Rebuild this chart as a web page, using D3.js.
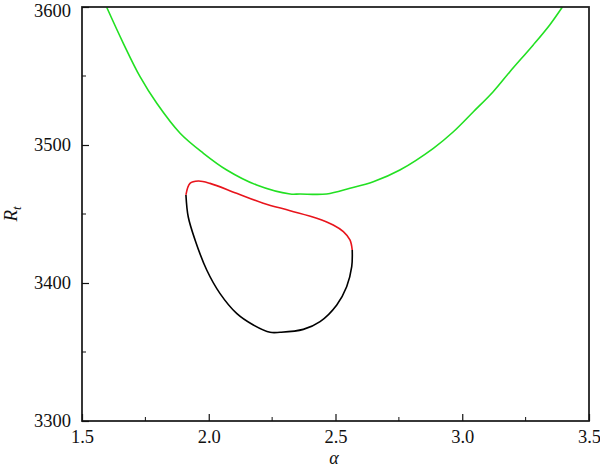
<!DOCTYPE html>
<html lang="en">
<head>
    <meta charset="UTF-8">
    <title>R_t vs alpha</title>
    <script src="https://cdnjs.cloudflare.com/ajax/libs/d3/7.8.5/d3.min.js"></script>
    <style>
        * { margin: 0; padding: 0; box-sizing: border-box; }
        body { background: #fff; width: 600px; height: 468px; overflow: hidden; }
    </style>
</head>
<body>
    <div id="chart"></div>

    <script>
        // upper curve (green)
        const greenAlpha = [1.597, 1.663, 1.729, 1.795, 1.887, 1.979, 2.071, 2.189, 2.321, 2.36, 2.465,
                            2.557, 2.649, 2.754, 2.886, 2.965, 3.044, 3.122, 3.188, 3.28, 3.345, 3.395];
        const greenRt = [3600, 3573.7, 3549.5, 3530.2, 3508.5, 3494.0, 3481.9, 3471.0, 3464.5, 3464.5, 3464.5,
                         3468.6, 3473.4, 3481.9, 3497.6, 3509.6, 3524.1, 3538.6, 3553.1, 3572.5, 3587.0, 3600];

        // upper part of the closed loop (red)
        const redAlpha = [1.910, 1.926, 1.959, 2.005, 2.110, 2.215, 2.321, 2.426, 2.491, 2.531, 2.557, 2.566];
        const redRt = [3463.8, 3472.2, 3473.9, 3472.2, 3465.0, 3457.8, 3452.4, 3446.9, 3442.0, 3437.2, 3431.2, 3423.9];

        // lower part of the closed loop (black)
        const blackAlpha = [2.566, 2.564, 2.544, 2.505, 2.439, 2.373, 2.281, 2.242, 2.176, 2.110, 2.044,
                            1.992, 1.946, 1.919, 1.910];
        const blackRt = [3423.9, 3411.8, 3397.3, 3384.1, 3372.0, 3366.4, 3364.3, 3364.3, 3369.6, 3378.0, 3392.5,
                         3409.4, 3431.2, 3448.0, 3463.8];

        const xTicks = [1.5, 2.0, 2.5, 3.0, 3.5];
        const xMinor = [1.75, 2.25, 2.75, 3.25];
        const yTicks = [3300, 3400, 3500, 3600];
        const yMinor = [3350, 3450, 3550];

        const serif = "'Liberation Serif', 'DejaVu Serif', serif";
        const width = 600, height = 468;
        const margin = { left: 82, right: 11, top: 7, bottom: 47 };

        const svg = d3.select('#chart').append('svg')
            .attr('width', width)
            .attr('height', height)
            .style('font-family', serif);

        const x = d3.scaleLinear().domain([1.5, 3.5]).range([margin.left, width - margin.right]);
        const y = d3.scaleLinear().domain([3300, 3600]).range([height - margin.bottom, margin.top]);

        const zip = (a, b) => a.map((v, i) => [v, b[i]]);

        const line = d3.line()
            .x(d => x(d[0]))
            .y(d => y(d[1]))
            .curve(d3.curveCatmullRom.alpha(0.5));

        const plot = svg.append('g');

        plot.append('path')
            .datum(zip(greenAlpha, greenRt))
            .attr('d', line)
            .attr('fill', 'none')
            .attr('stroke', '#22e022')
            .attr('stroke-width', 1.6);

        plot.append('path')
            .datum(zip(blackAlpha, blackRt))
            .attr('d', line)
            .attr('fill', 'none')
            .attr('stroke', '#000')
            .attr('stroke-width', 1.6);

        plot.append('path')
            .datum(zip(redAlpha, redRt))
            .attr('d', line)
            .attr('fill', 'none')
            .attr('stroke', '#e8141c')
            .attr('stroke-width', 1.6);

        // frame
        svg.append('rect')
            .attr('x', x(1.5))
            .attr('y', y(3600))
            .attr('width', x(3.5) - x(1.5))
            .attr('height', y(3300) - y(3600))
            .attr('fill', 'none')
            .attr('stroke', '#222')
            .attr('stroke-width', 1.8);

        // bottom axis, ticks inward
        const xAxis = svg.append('g')
            .attr('transform', `translate(0,${y(3300)})`)
            .call(d3.axisBottom(x).tickValues(xTicks).tickFormat(d3.format('.1f')).tickSize(-7).tickPadding(9));
        xAxis.append('g').selectAll('line')
            .data(xMinor).enter().append('line')
            .attr('x1', d => x(d)).attr('x2', d => x(d))
            .attr('y1', 0).attr('y2', -4)
            .attr('stroke', '#111');

        // left axis, ticks inward
        const yAxis = svg.append('g')
            .attr('transform', `translate(${x(1.5)},0)`)
            .call(d3.axisLeft(y).tickValues(yTicks).tickFormat(d3.format('d')).tickSize(-7).tickPadding(11));
        yAxis.append('g').selectAll('line')
            .data(yMinor).enter().append('line')
            .attr('y1', d => y(d)).attr('y2', d => y(d))
            .attr('x1', 0).attr('x2', 4)
            .attr('stroke', '#111');

        svg.selectAll('.domain').remove();
        svg.selectAll('.tick line').attr('stroke', '#111').attr('stroke-width', 1.2);
        [xAxis, yAxis].forEach(a => a.attr('font-family', serif).attr('font-size', 18.5));
        svg.selectAll('.tick text')
            .style('font-family', serif)
            .style('font-size', '18.5px')
            .attr('fill', '#111');
        // top label sits right at the edge, nudge it so it stays inside the picture
        yAxis.selectAll('.tick text').filter(d => d === 3600).attr('dy', '0.5em');

        // axis titles
        svg.append('text')
            .attr('x', 334)
            .attr('y', 464)
            .attr('text-anchor', 'middle')
            .style('font-family', serif)
            .style('font-size', '18px')
            .style('font-style', 'italic')
            .attr('fill', '#111')
            .text('α');

        const yTitle = svg.append('text')
            .attr('transform', 'translate(17,214) rotate(-90)')
            .attr('text-anchor', 'middle')
            .style('font-family', serif)
            .style('font-size', '19px')
            .style('font-style', 'italic')
            .attr('fill', '#111');
        yTitle.append('tspan').text('R');
        yTitle.append('tspan').style('font-size', '13px').attr('dy', 4).text('t');
    </script>
</body>
</html>
